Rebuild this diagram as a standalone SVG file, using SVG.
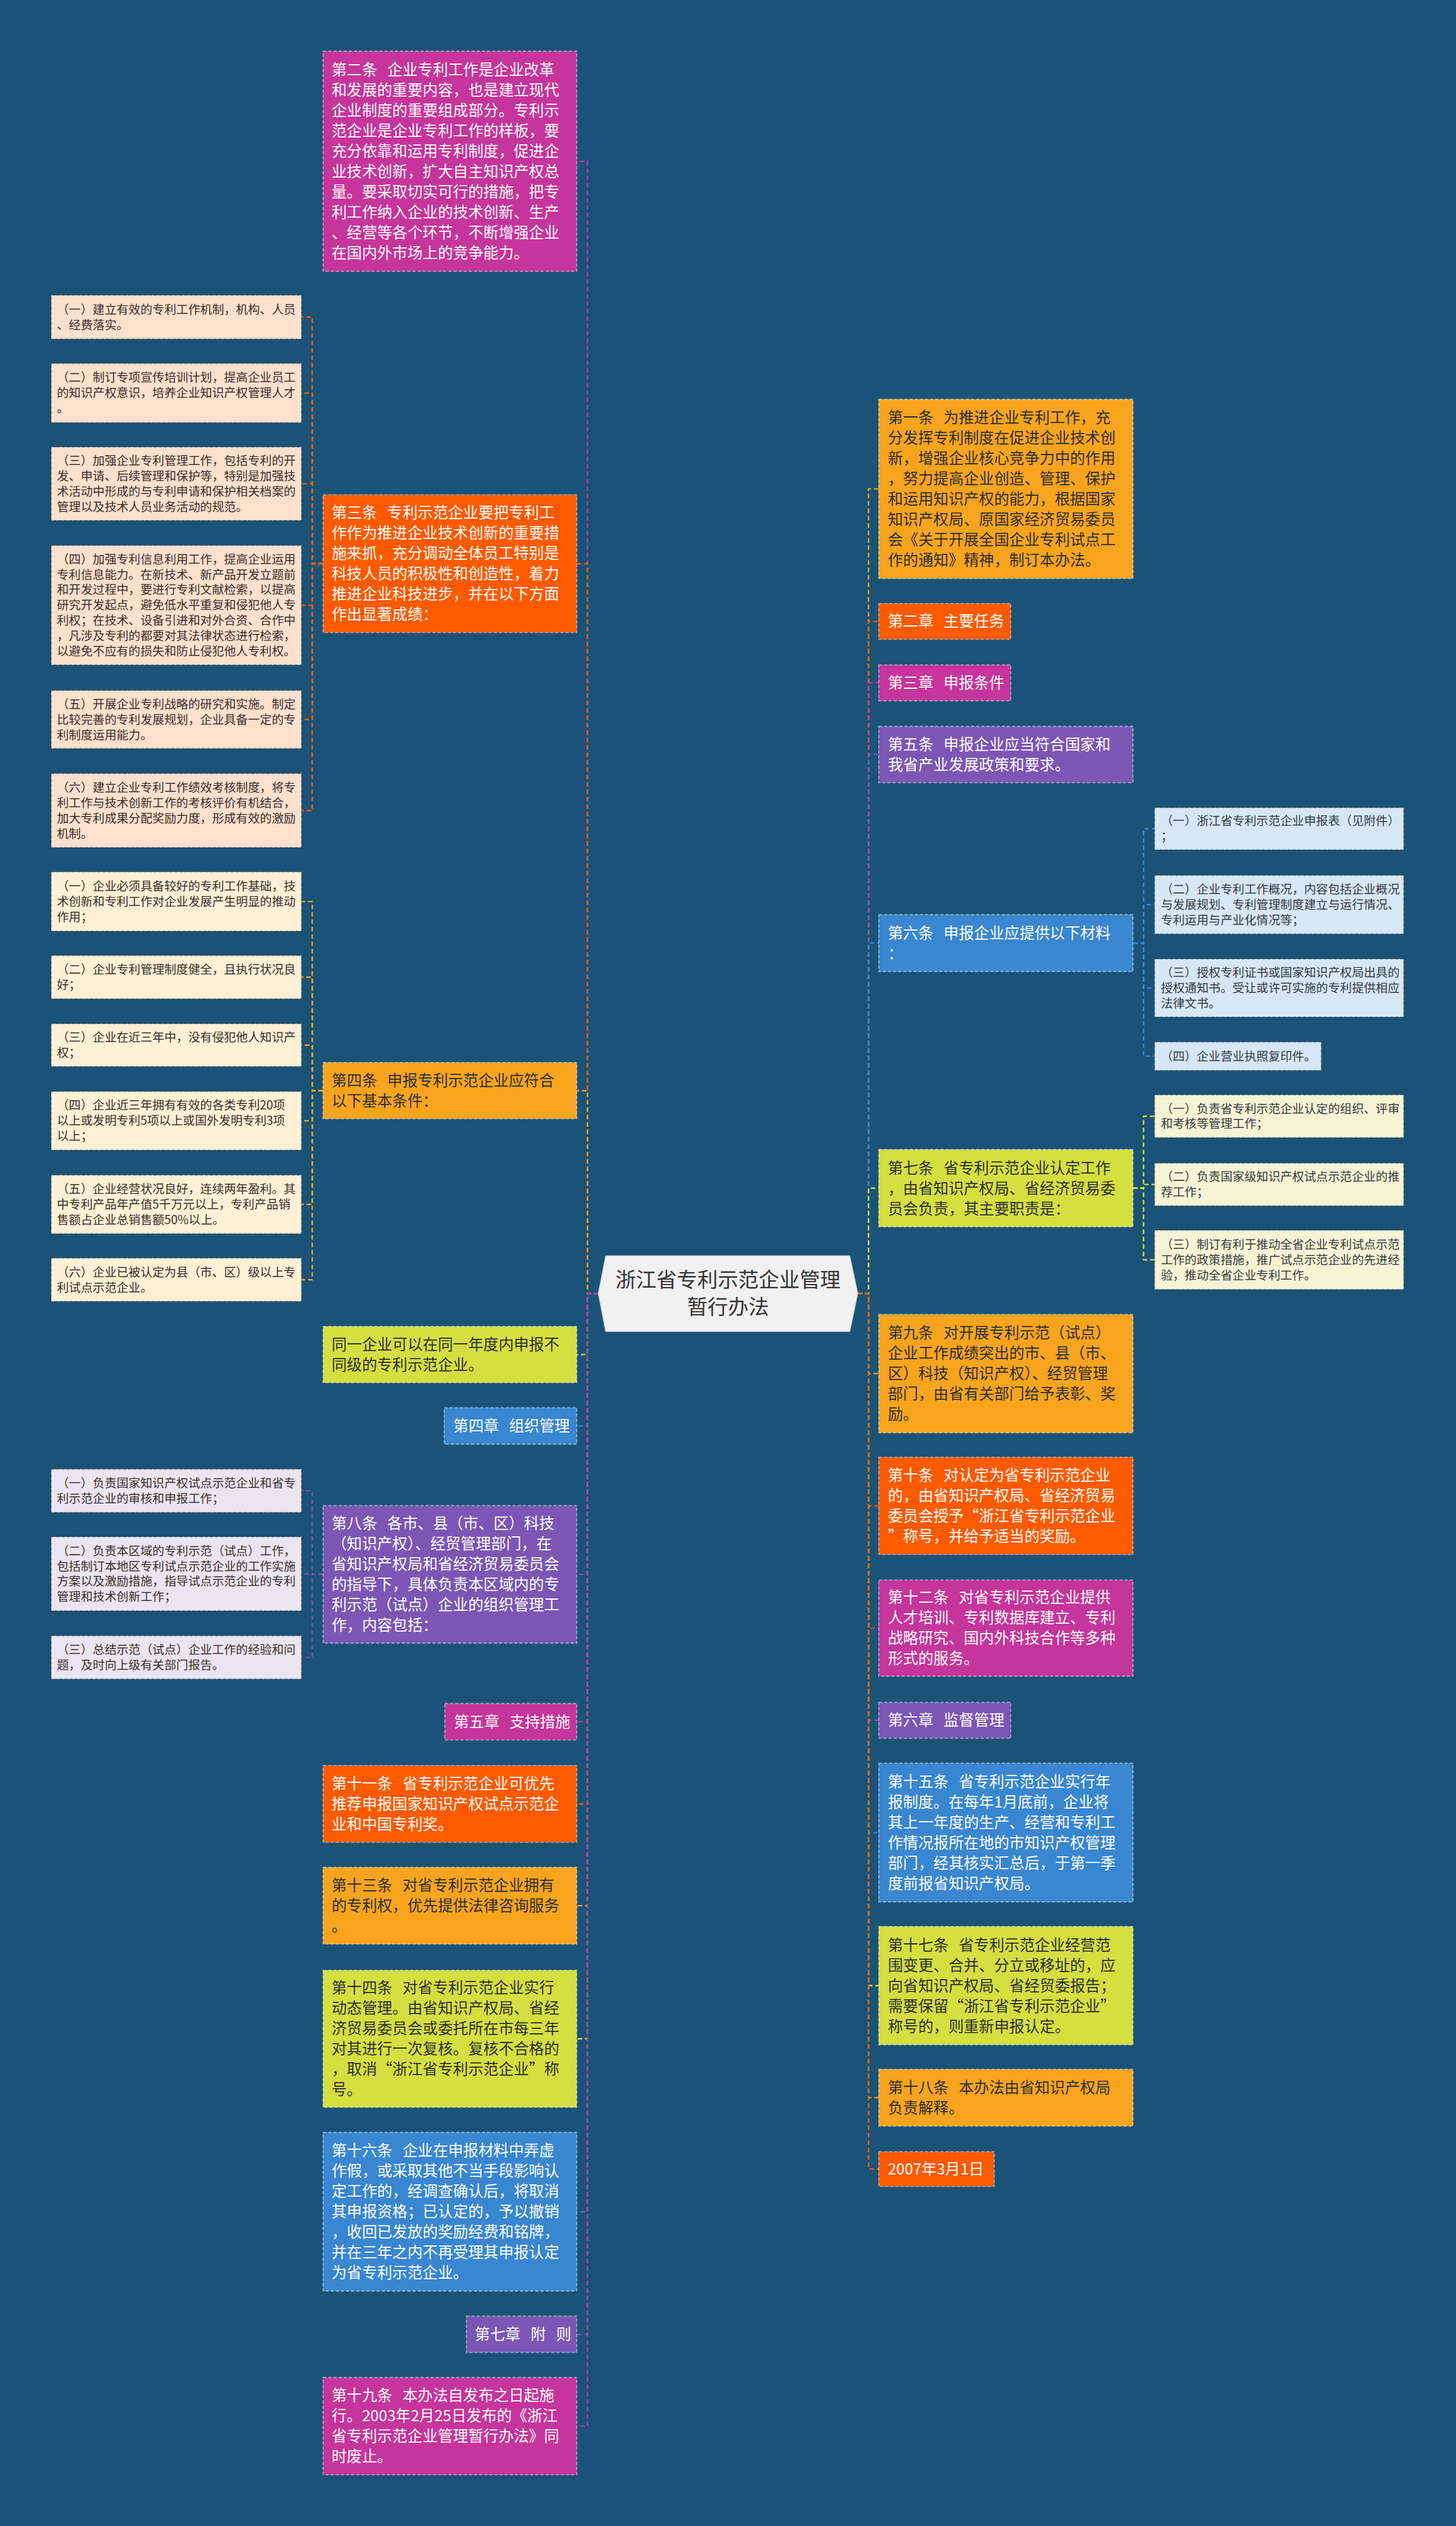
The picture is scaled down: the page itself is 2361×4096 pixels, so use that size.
<svg xmlns="http://www.w3.org/2000/svg" width="2361" height="4096" viewBox="0 0 2361 4096">
<style>
text{font-family:'Noto Sans CJK SC','Noto Sans',sans-serif;white-space:pre;word-spacing:3px}
.bd{stroke:rgba(255,255,255,0.45);stroke-width:2;stroke-dasharray:6 3}
.bp{stroke:rgba(0,0,0,0.22);stroke-width:2;stroke-dasharray:6 3}
.mg{fill:#c6359b}.or{fill:#ff5a00}.oy{fill:#f8a41d}.lm{fill:#d4df40}.pu{fill:#7c56b4}.bl{fill:#3986d1}
.pe{fill:#fde0cd}.cr{fill:#fff0d6}.lv{fill:#ebe5f2}.lb{fill:#d7e7f6}.py{fill:#f5f4d5}
.tw{fill:#ffffff;font-size:26.7px}.td{fill:#2e2e2e;font-size:26.7px}.ts{fill:#3a2f28;font-size:21px}.tr{fill:#333a40;font-size:21px}
.c{fill:none;stroke-width:2.5;stroke-dasharray:8 5}
.cmg{stroke:#c6359b}.cor{stroke:#ff5a00}.coy{stroke:#f8a41d}.clm{stroke:#d4df40}.cpu{stroke:#7c56b4}.cbl{stroke:#3986d1}
</style>
<rect x="0" y="0" width="2361" height="4096" fill="#1a5377"/>
<g transform="scale(0.9223)">
<g id="connectors">
<path class="c cmg" d="M1052 2274H1033V283.5H1014"/>
<path class="c cor" d="M1052 2274H1033V991H1014"/>
<path class="c coy" d="M1052 2274H1033V1917.5H1014"/>
<path class="c clm" d="M1052 2274H1033V2381.5H1014"/>
<path class="c cbl" d="M1052 2274H1033V2507H1014"/>
<path class="c cpu" d="M1052 2274H1033V2768H1014"/>
<path class="c cmg" d="M1052 2274H1033V3027H1014"/>
<path class="c cor" d="M1052 2274H1033V3171.5H1014"/>
<path class="c coy" d="M1052 2274H1033V3350.5H1014"/>
<path class="c clm" d="M1052 2274H1033V3584.5H1014"/>
<path class="c cbl" d="M1052 2274H1033V3888.5H1014"/>
<path class="c cpu" d="M1052 2274H1033V4104H1014"/>
<path class="c cmg" d="M1052 2274H1033V4265.5H1014"/>
<path class="c cor" d="M568 991H549V557.5H530"/>
<path class="c cor" d="M568 991H549V691H530"/>
<path class="c cor" d="M568 991H549V850.5H530"/>
<path class="c cor" d="M568 991H549V1064H530"/>
<path class="c cor" d="M568 991H549V1265H530"/>
<path class="c cor" d="M568 991H549V1425H530"/>
<path class="c coy" d="M568 1917.5H549V1585H530"/>
<path class="c coy" d="M568 1917.5H549V1718H530"/>
<path class="c coy" d="M568 1917.5H549V1837.5H530"/>
<path class="c coy" d="M568 1917.5H549V1970.5H530"/>
<path class="c coy" d="M568 1917.5H549V2117.5H530"/>
<path class="c coy" d="M568 1917.5H549V2250H530"/>
<path class="c cpu" d="M568 2768H549V2621H530"/>
<path class="c cpu" d="M568 2768H549V2767H530"/>
<path class="c cpu" d="M568 2768H549V2914H530"/>
<path class="c coy" d="M1508 2274H1527V859.5H1545"/>
<path class="c cor" d="M1508 2274H1527V1092.5H1545"/>
<path class="c cmg" d="M1508 2274H1527V1200.5H1545"/>
<path class="c cpu" d="M1508 2274H1527V1326.5H1545"/>
<path class="c cbl" d="M1508 2274H1527V1658H1545"/>
<path class="c clm" d="M1508 2274H1527V2089H1545"/>
<path class="c coy" d="M1508 2274H1527V2415H1545"/>
<path class="c cor" d="M1508 2274H1527V2647.5H1545"/>
<path class="c cmg" d="M1508 2274H1527V2862.5H1545"/>
<path class="c cpu" d="M1508 2274H1527V3024.5H1545"/>
<path class="c cbl" d="M1508 2274H1527V3222H1545"/>
<path class="c clm" d="M1508 2274H1527V3491H1545"/>
<path class="c coy" d="M1508 2274H1527V3688H1545"/>
<path class="c cor" d="M1508 2274H1527V3813.5H1545"/>
<path class="c cbl" d="M1992 1658H2010.5V1457H2030"/>
<path class="c cbl" d="M1992 1658H2010.5V1590.5H2030"/>
<path class="c cbl" d="M1992 1658H2010.5V1737H2030"/>
<path class="c cbl" d="M1992 1658H2010.5V1857H2030"/>
<path class="c clm" d="M1992 2089H2010.5V1962.5H2030"/>
<path class="c clm" d="M1992 2089H2010.5V2082.5H2030"/>
<path class="c clm" d="M1992 2089H2010.5V2215H2030"/>
</g>
<g id="root">
<polygon points="1052,2274 1065,2208 1494,2208 1508,2274 1494,2341 1065,2341" fill="#f1f1f1" stroke="#d8d8d8" stroke-width="1.5"/>
<text x="1280" y="2263" text-anchor="middle" fill="#333333" font-size="36">浙江省专利示范企业管理</text>
<text x="1280" y="2310" text-anchor="middle" fill="#333333" font-size="36">暂行办法</text>
</g>
<g id="n2"><rect class="mg bd" x="568" y="90" width="446" height="387"/>
<text class="tw" x="583" y="132"><tspan x="583" dy="0">第二条  企业专利工作是企业改革</tspan><tspan x="583" dy="35.8">和发展的重要内容，也是建立现代</tspan><tspan x="583" dy="35.8">企业制度的重要组成部分。专利示</tspan><tspan x="583" dy="35.8">范企业是企业专利工作的样板，要</tspan><tspan x="583" dy="35.8">充分依靠和运用专利制度，促进企</tspan><tspan x="583" dy="35.8">业技术创新，扩大自主知识产权总</tspan><tspan x="583" dy="35.8">量。要采取切实可行的措施，把专</tspan><tspan x="583" dy="35.8">利工作纳入企业的技术创新、生产</tspan><tspan x="583" dy="35.8">、经营等各个环节，不断增强企业</tspan><tspan x="583" dy="35.8">在国内外市场上的竞争能力。</tspan></text></g>
<g id="n3"><rect class="or bd" x="568" y="870" width="446" height="242"/>
<text class="tw" x="583" y="911.1"><tspan x="583" dy="0">第三条  专利示范企业要把专利工</tspan><tspan x="583" dy="35.8">作作为推进企业技术创新的重要措</tspan><tspan x="583" dy="35.8">施来抓，充分调动全体员工特别是</tspan><tspan x="583" dy="35.8">科技人员的积极性和创造性，着力</tspan><tspan x="583" dy="35.8">推进企业科技进步，并在以下方面</tspan><tspan x="583" dy="35.8">作出显著成绩：</tspan></text></g>
<g id="n4"><rect class="oy bd" x="568" y="1868" width="446" height="99"/>
<text class="td" x="583" y="1909.2"><tspan x="583" dy="0">第四条  申报专利示范企业应符合</tspan><tspan x="583" dy="35.8">以下基本条件：</tspan></text></g>
<g id="nsame"><rect class="lm bd" x="568" y="2332" width="446" height="99"/>
<text class="td" x="583" y="2373.2"><tspan x="583" dy="0">同一企业可以在同一年度内申报不</tspan><tspan x="583" dy="35.8">同级的专利示范企业。</tspan></text></g>
<g id="ch4"><rect class="bl bd" x="781" y="2475" width="233" height="64"/>
<text class="tw" x="797" y="2516.6">第四章  组织管理</text></g>
<g id="n8"><rect class="pu bd" x="568" y="2647" width="446" height="242"/>
<text class="tw" x="583" y="2688.1"><tspan x="583" dy="0">第八条  各市、县（市、区）科技</tspan><tspan x="583" dy="35.8">（知识产权）、经贸管理部门，在</tspan><tspan x="583" dy="35.8">省知识产权局和省经济贸易委员会</tspan><tspan x="583" dy="35.8">的指导下，具体负责本区域内的专</tspan><tspan x="583" dy="35.8">利示范（试点）企业的组织管理工</tspan><tspan x="583" dy="35.8">作，内容包括：</tspan></text></g>
<g id="ch5"><rect class="mg bd" x="782" y="2995" width="232" height="64"/>
<text class="tw" x="798" y="3036.6">第五章  支持措施</text></g>
<g id="n11"><rect class="or bd" x="568" y="3104" width="446" height="135"/>
<text class="tw" x="583" y="3145.3"><tspan x="583" dy="0">第十一条  省专利示范企业可优先</tspan><tspan x="583" dy="35.8">推荐申报国家知识产权试点示范企</tspan><tspan x="583" dy="35.8">业和中国专利奖。</tspan></text></g>
<g id="n13"><rect class="oy bd" x="568" y="3283" width="446" height="135"/>
<text class="td" x="583" y="3324.3"><tspan x="583" dy="0">第十三条  对省专利示范企业拥有</tspan><tspan x="583" dy="35.8">的专利权，优先提供法律咨询服务</tspan><tspan x="583" dy="35.8">。</tspan></text></g>
<g id="n14"><rect class="lm bd" x="568" y="3464" width="446" height="241"/>
<text class="td" x="583" y="3504.6"><tspan x="583" dy="0">第十四条  对省专利示范企业实行</tspan><tspan x="583" dy="35.8">动态管理。由省知识产权局、省经</tspan><tspan x="583" dy="35.8">济贸易委员会或委托所在市每三年</tspan><tspan x="583" dy="35.8">对其进行一次复核。复核不合格的</tspan><tspan x="583" dy="35.8">，取消“浙江省专利示范企业”称</tspan><tspan x="583" dy="35.8">号。</tspan></text></g>
<g id="n16"><rect class="bl bd" x="568" y="3749" width="446" height="279"/>
<text class="tw" x="583" y="3790.7"><tspan x="583" dy="0">第十六条  企业在申报材料中弄虚</tspan><tspan x="583" dy="35.8">作假，或采取其他不当手段影响认</tspan><tspan x="583" dy="35.8">定工作的，经调查确认后，将取消</tspan><tspan x="583" dy="35.8">其申报资格；已认定的，予以撤销</tspan><tspan x="583" dy="35.8">，收回已发放的奖励经费和铭牌，</tspan><tspan x="583" dy="35.8">并在三年之内不再受理其申报认定</tspan><tspan x="583" dy="35.8">为省专利示范企业。</tspan></text></g>
<g id="ch7"><rect class="pu bd" x="820" y="4072" width="194" height="64"/>
<text class="tw" x="835" y="4113.6">第七章  附  则</text></g>
<g id="n19"><rect class="mg bd" x="568" y="4180" width="446" height="171"/>
<text class="tw" x="583" y="4221.4"><tspan x="583" dy="0">第十九条  本办法自发布之日起施</tspan><tspan x="583" dy="35.8">行。2003年2月25日发布的《浙江</tspan><tspan x="583" dy="35.8">省专利示范企业管理暂行办法》同</tspan><tspan x="583" dy="35.8">时废止。</tspan></text></g>
<g id="a1"><rect class="pe bp" x="90" y="519" width="440" height="77"/>
<text class="ts" x="100" y="551.6"><tspan x="100" dy="0">（一）建立有效的专利工作机制，机构、人员</tspan><tspan x="100" dy="27">、经费落实。</tspan></text></g>
<g id="a2"><rect class="pe bp" x="90" y="639" width="440" height="104"/>
<text class="ts" x="100" y="671.6"><tspan x="100" dy="0">（二）制订专项宣传培训计划，提高企业员工</tspan><tspan x="100" dy="27">的知识产权意识，培养企业知识产权管理人才</tspan><tspan x="100" dy="27">。</tspan></text></g>
<g id="a3"><rect class="pe bp" x="90" y="786" width="440" height="129"/>
<text class="ts" x="100" y="817.6"><tspan x="100" dy="0">（三）加强企业专利管理工作，包括专利的开</tspan><tspan x="100" dy="27">发、申请、后续管理和保护等，特别是加强技</tspan><tspan x="100" dy="27">术活动中形成的与专利申请和保护相关档案的</tspan><tspan x="100" dy="27">管理以及技术人员业务活动的规范。</tspan></text></g>
<g id="a4"><rect class="pe bp" x="90" y="959" width="440" height="210"/>
<text class="ts" x="100" y="990.6"><tspan x="100" dy="0">（四）加强专利信息利用工作，提高企业运用</tspan><tspan x="100" dy="27">专利信息能力。在新技术、新产品开发立题前</tspan><tspan x="100" dy="27">和开发过程中，要进行专利文献检索，以提高</tspan><tspan x="100" dy="27">研究开发起点，避免低水平重复和侵犯他人专</tspan><tspan x="100" dy="27">利权；在技术、设备引进和对外合资、合作中</tspan><tspan x="100" dy="27">，凡涉及专利的都要对其法律状态进行检索，</tspan><tspan x="100" dy="27">以避免不应有的损失和防止侵犯他人专利权。</tspan></text></g>
<g id="a5"><rect class="pe bp" x="90" y="1214" width="440" height="102"/>
<text class="ts" x="100" y="1245.6"><tspan x="100" dy="0">（五）开展企业专利战略的研究和实施。制定</tspan><tspan x="100" dy="27">比较完善的专利发展规划，企业具备一定的专</tspan><tspan x="100" dy="27">利制度运用能力。</tspan></text></g>
<g id="a6"><rect class="pe bp" x="90" y="1360" width="440" height="130"/>
<text class="ts" x="100" y="1392.1"><tspan x="100" dy="0">（六）建立企业专利工作绩效考核制度，将专</tspan><tspan x="100" dy="27">利工作与技术创新工作的考核评价有机结合，</tspan><tspan x="100" dy="27">加大专利成果分配奖励力度，形成有效的激励</tspan><tspan x="100" dy="27">机制。</tspan></text></g>
<g id="b1"><rect class="cr bp" x="90" y="1533" width="440" height="104"/>
<text class="ts" x="100" y="1565.6"><tspan x="100" dy="0">（一）企业必须具备较好的专利工作基础，技</tspan><tspan x="100" dy="27">术创新和专利工作对企业发展产生明显的推动</tspan><tspan x="100" dy="27">作用；</tspan></text></g>
<g id="b2"><rect class="cr bp" x="90" y="1680" width="440" height="76"/>
<text class="ts" x="100" y="1712.1"><tspan x="100" dy="0">（二）企业专利管理制度健全，且执行状况良</tspan><tspan x="100" dy="27">好；</tspan></text></g>
<g id="b3"><rect class="cr bp" x="90" y="1800" width="440" height="75"/>
<text class="ts" x="100" y="1831.6"><tspan x="100" dy="0">（三）企业在近三年中，没有侵犯他人知识产</tspan><tspan x="100" dy="27">权；</tspan></text></g>
<g id="b4"><rect class="cr bp" x="90" y="1919" width="440" height="103"/>
<text class="ts" x="100" y="1951.1"><tspan x="100" dy="0">（四）企业近三年拥有有效的各类专利20项</tspan><tspan x="100" dy="27">以上或发明专利5项以上或国外发明专利3项</tspan><tspan x="100" dy="27">以上；</tspan></text></g>
<g id="b5"><rect class="cr bp" x="90" y="2066" width="440" height="103"/>
<text class="ts" x="100" y="2098.1"><tspan x="100" dy="0">（五）企业经营状况良好，连续两年盈利。其</tspan><tspan x="100" dy="27">中专利产品年产值5千万元以上，专利产品销</tspan><tspan x="100" dy="27">售额占企业总销售额50%以上。</tspan></text></g>
<g id="b6"><rect class="cr bp" x="90" y="2212" width="440" height="76"/>
<text class="ts" x="100" y="2244.1"><tspan x="100" dy="0">（六）企业已被认定为县（市、区）级以上专</tspan><tspan x="100" dy="27">利试点示范企业。</tspan></text></g>
<g id="c1"><rect class="lv bp" x="90" y="2583" width="440" height="76"/>
<text class="ts" x="100" y="2615.1"><tspan x="100" dy="0">（一）负责国家知识产权试点示范企业和省专</tspan><tspan x="100" dy="27">利示范企业的审核和申报工作；</tspan></text></g>
<g id="c2"><rect class="lv bp" x="90" y="2702" width="440" height="130"/>
<text class="ts" x="100" y="2734.1"><tspan x="100" dy="0">（二）负责本区域的专利示范（试点）工作，</tspan><tspan x="100" dy="27">包括制订本地区专利试点示范企业的工作实施</tspan><tspan x="100" dy="27">方案以及激励措施，指导试点示范企业的专利</tspan><tspan x="100" dy="27">管理和技术创新工作；</tspan></text></g>
<g id="c3"><rect class="lv bp" x="90" y="2876" width="440" height="76"/>
<text class="ts" x="100" y="2908.1"><tspan x="100" dy="0">（三）总结示范（试点）企业工作的经验和问</tspan><tspan x="100" dy="27">题，及时向上级有关部门报告。</tspan></text></g>
<g id="r1"><rect class="oy bd" x="1545" y="702" width="447" height="315"/>
<text class="td" x="1561" y="743.8"><tspan x="1561" dy="0">第一条  为推进企业专利工作，充</tspan><tspan x="1561" dy="35.8">分发挥专利制度在促进企业技术创</tspan><tspan x="1561" dy="35.8">新，增强企业核心竞争力中的作用</tspan><tspan x="1561" dy="35.8">，努力提高企业创造、管理、保护</tspan><tspan x="1561" dy="35.8">和运用知识产权的能力，根据国家</tspan><tspan x="1561" dy="35.8">知识产权局、原国家经济贸易委员</tspan><tspan x="1561" dy="35.8">会《关于开展全国企业专利试点工</tspan><tspan x="1561" dy="35.8">作的通知》精神，制订本办法。</tspan></text></g>
<g id="ch2"><rect class="or bd" x="1545" y="1061" width="232" height="63"/>
<text class="tw" x="1561" y="1102.1">第二章  主要任务</text></g>
<g id="ch3"><rect class="mg bd" x="1545" y="1169" width="232" height="63"/>
<text class="tw" x="1561" y="1210.1">第三章  申报条件</text></g>
<g id="r5"><rect class="pu bd" x="1545" y="1277" width="447" height="99"/>
<text class="tw" x="1561" y="1318.2"><tspan x="1561" dy="0">第五条  申报企业应当符合国家和</tspan><tspan x="1561" dy="35.8">我省产业发展政策和要求。</tspan></text></g>
<g id="r6"><rect class="bl bd" x="1545" y="1608" width="447" height="100"/>
<text class="tw" x="1561" y="1649.7"><tspan x="1561" dy="0">第六条  申报企业应提供以下材料</tspan><tspan x="1561" dy="35.8">：</tspan></text></g>
<g id="r7"><rect class="lm bd" x="1545" y="2021" width="447" height="136"/>
<text class="td" x="1561" y="2062.8"><tspan x="1561" dy="0">第七条  省专利示范企业认定工作</tspan><tspan x="1561" dy="35.8">，由省知识产权局、省经济贸易委</tspan><tspan x="1561" dy="35.8">员会负责，其主要职责是：</tspan></text></g>
<g id="r9"><rect class="oy bd" x="1545" y="2311" width="447" height="208"/>
<text class="td" x="1561" y="2353"><tspan x="1561" dy="0">第九条  对开展专利示范（试点）</tspan><tspan x="1561" dy="35.8">企业工作成绩突出的市、县（市、</tspan><tspan x="1561" dy="35.8">区）科技（知识产权）、经贸管理</tspan><tspan x="1561" dy="35.8">部门，由省有关部门给予表彰、奖</tspan><tspan x="1561" dy="35.8">励。</tspan></text></g>
<g id="r10"><rect class="or bd" x="1545" y="2562" width="447" height="171"/>
<text class="tw" x="1561" y="2603.4"><tspan x="1561" dy="0">第十条  对认定为省专利示范企业</tspan><tspan x="1561" dy="35.8">的，由省知识产权局、省经济贸易</tspan><tspan x="1561" dy="35.8">委员会授予“浙江省专利示范企业</tspan><tspan x="1561" dy="35.8">”称号，并给予适当的奖励。</tspan></text></g>
<g id="r12"><rect class="mg bd" x="1545" y="2778" width="447" height="169"/>
<text class="tw" x="1561" y="2818.4"><tspan x="1561" dy="0">第十二条  对省专利示范企业提供</tspan><tspan x="1561" dy="35.8">人才培训、专利数据库建立、专利</tspan><tspan x="1561" dy="35.8">战略研究、国内外科技合作等多种</tspan><tspan x="1561" dy="35.8">形式的服务。</tspan></text></g>
<g id="ch6"><rect class="pu bd" x="1545" y="2993" width="232" height="63"/>
<text class="tw" x="1561" y="3034.1">第六章  监督管理</text></g>
<g id="r15"><rect class="bl bd" x="1545" y="3100" width="447" height="244"/>
<text class="tw" x="1561" y="3142.1"><tspan x="1561" dy="0">第十五条  省专利示范企业实行年</tspan><tspan x="1561" dy="35.8">报制度。在每年1月底前，企业将</tspan><tspan x="1561" dy="35.8">其上一年度的生产、经营和专利工</tspan><tspan x="1561" dy="35.8">作情况报所在地的市知识产权管理</tspan><tspan x="1561" dy="35.8">部门，经其核实汇总后，于第一季</tspan><tspan x="1561" dy="35.8">度前报省知识产权局。</tspan></text></g>
<g id="r17"><rect class="lm bd" x="1545" y="3387" width="447" height="208"/>
<text class="td" x="1561" y="3429"><tspan x="1561" dy="0">第十七条  省专利示范企业经营范</tspan><tspan x="1561" dy="35.8">围变更、合并、分立或移址的，应</tspan><tspan x="1561" dy="35.8">向省知识产权局、省经贸委报告；</tspan><tspan x="1561" dy="35.8">需要保留“浙江省专利示范企业”</tspan><tspan x="1561" dy="35.8">称号的，则重新申报认定。</tspan></text></g>
<g id="r18"><rect class="oy bd" x="1545" y="3638" width="447" height="100"/>
<text class="td" x="1561" y="3679.7"><tspan x="1561" dy="0">第十八条  本办法由省知识产权局</tspan><tspan x="1561" dy="35.8">负责解释。</tspan></text></g>
<g id="rdate"><rect class="or bd" x="1545" y="3783" width="203" height="61"/>
<text class="tw" x="1561" y="3823.1">2007年3月1日</text></g>
<g id="s1"><rect class="lb bp" x="2030" y="1420" width="438" height="74"/>
<text class="tr" x="2041" y="1451.1"><tspan x="2041" dy="0">（一）浙江省专利示范企业申报表（见附件）</tspan><tspan x="2041" dy="27">；</tspan></text></g>
<g id="s2"><rect class="lb bp" x="2030" y="1539" width="438" height="103"/>
<text class="tr" x="2041" y="1571.1"><tspan x="2041" dy="0">（二）企业专利工作概况，内容包括企业概况</tspan><tspan x="2041" dy="27">与发展规划、专利管理制度建立与运行情况、</tspan><tspan x="2041" dy="27">专利运用与产业化情况等；</tspan></text></g>
<g id="s3"><rect class="lb bp" x="2030" y="1686" width="438" height="102"/>
<text class="tr" x="2041" y="1717.6"><tspan x="2041" dy="0">（三）授权专利证书或国家知识产权局出具的</tspan><tspan x="2041" dy="27">授权通知书。受让或许可实施的专利提供相应</tspan><tspan x="2041" dy="27">法律文书。</tspan></text></g>
<g id="s4"><rect class="lb bp" x="2030" y="1832" width="293" height="50"/>
<text class="tr" x="2041" y="1864.6">（四）企业营业执照复印件。</text></g>
<g id="t1"><rect class="py bp" x="2030" y="1925" width="438" height="75"/>
<text class="tr" x="2041" y="1956.6"><tspan x="2041" dy="0">（一）负责省专利示范企业认定的组织、评审</tspan><tspan x="2041" dy="27">和考核等管理工作；</tspan></text></g>
<g id="t2"><rect class="py bp" x="2030" y="2045" width="438" height="75"/>
<text class="tr" x="2041" y="2076.6"><tspan x="2041" dy="0">（二）负责国家级知识产权试点示范企业的推</tspan><tspan x="2041" dy="27">荐工作；</tspan></text></g>
<g id="t3"><rect class="py bp" x="2030" y="2163" width="438" height="104"/>
<text class="tr" x="2041" y="2195.6"><tspan x="2041" dy="0">（三）制订有利于推动全省企业专利试点示范</tspan><tspan x="2041" dy="27">工作的政策措施，推广试点示范企业的先进经</tspan><tspan x="2041" dy="27">验，推动全省企业专利工作。</tspan></text></g>
</g>
</svg>
